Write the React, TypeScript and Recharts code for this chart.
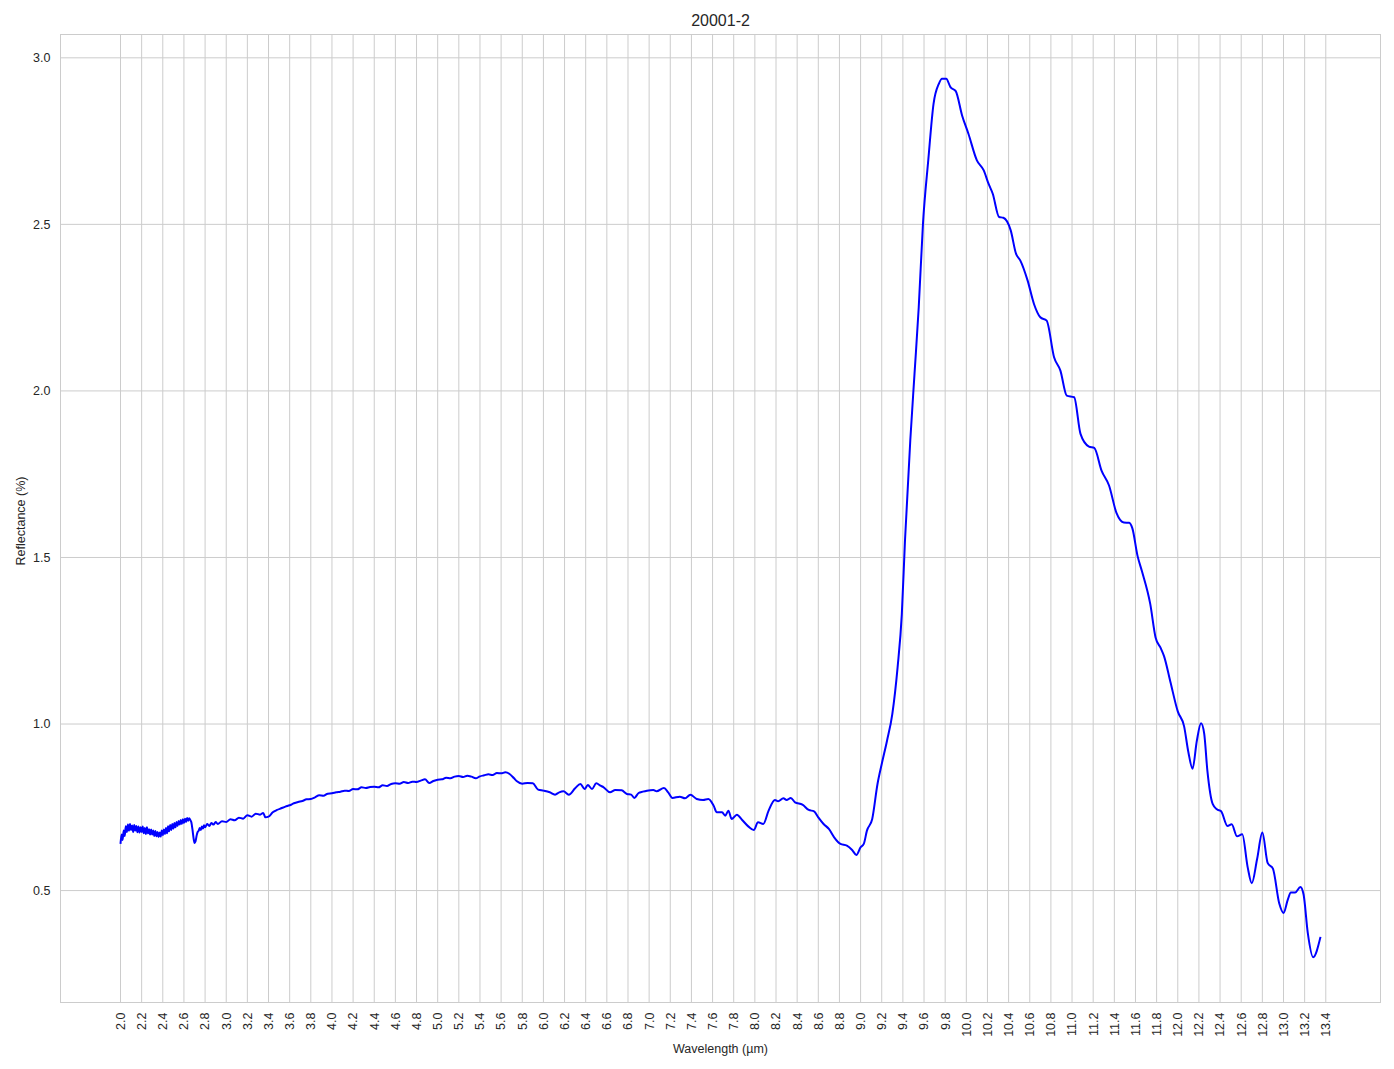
import { LineChart, Line, XAxis, YAxis, CartesianGrid } from 'recharts'

const FONT = "Arial, 'Liberation Sans', sans-serif"
const TEXT = '#262626'
const GRID = '#cccccc'

// wavelength (µm)
const wavelengths = [
  2.00, 2.01, 2.02, 2.03, 2.04, 2.05, 2.06, 2.07, 2.08, 2.09, 2.10, 2.11, 2.12, 2.13, 2.14, 2.15, 2.16, 2.17, 2.18, 2.19,
  2.20, 2.21, 2.22, 2.23, 2.24, 2.25, 2.26, 2.27, 2.28, 2.29, 2.30, 2.31, 2.32, 2.33, 2.34, 2.35, 2.36, 2.37, 2.38, 2.39,
  2.40, 2.41, 2.42, 2.43, 2.44, 2.45, 2.46, 2.47, 2.48, 2.49, 2.50, 2.51, 2.52, 2.53, 2.54, 2.55, 2.56, 2.57, 2.58, 2.59,
  2.60, 2.61, 2.62, 2.63, 2.64, 2.65, 2.66, 2.67, 2.68, 2.69, 2.70, 2.71, 2.72, 2.73, 2.74, 2.75, 2.76, 2.77, 2.78, 2.79,
  2.80, 2.82, 2.84, 2.86, 2.88, 2.90,
  2.92, 2.96, 3.00, 3.04, 3.08, 3.12, 3.16, 3.20, 3.24, 3.28, 3.32, 3.35, 3.37, 3.40, 3.44, 3.48, 3.52, 3.56, 3.60, 3.64,
  3.68, 3.72, 3.76, 3.80, 3.84, 3.88, 3.92, 3.96, 4.00, 4.04, 4.08, 4.12, 4.16, 4.20, 4.24, 4.28, 4.32, 4.36, 4.40, 4.44,
  4.48, 4.52, 4.56, 4.60, 4.64, 4.68, 4.72, 4.76, 4.80, 4.84, 4.88, 4.92, 4.96, 5.00, 5.04, 5.08, 5.12, 5.16, 5.20, 5.24,
  5.28, 5.32, 5.36, 5.40, 5.44, 5.48, 5.52, 5.56, 5.60, 5.64, 5.68, 5.72, 5.75, 5.80,
  5.85, 5.90, 5.95, 6.00, 6.06, 6.11, 6.15, 6.19, 6.24, 6.30, 6.35, 6.39, 6.42, 6.46, 6.50, 6.54, 6.57, 6.63, 6.68, 6.74,
  6.79, 6.83, 6.86, 6.90, 6.94, 6.98, 7.04, 7.07, 7.14, 7.18, 7.22, 7.29, 7.34, 7.39, 7.45, 7.51, 7.56, 7.61, 7.64, 7.69,
  7.72, 7.75, 7.78, 7.83, 7.88, 7.94, 7.99, 8.03, 8.08, 8.13, 8.19, 8.22, 8.27, 8.30, 8.34, 8.38, 8.45, 8.51, 8.56, 8.60,
  8.65, 8.70, 8.75, 8.81, 8.87, 8.92, 8.96, 9.00, 9.03, 9.06, 9.11, 9.16, 9.20, 9.25, 9.30, 9.35, 9.39, 9.42, 9.47, 9.51,
  9.55, 9.59, 9.64, 9.69, 9.74, 9.77, 9.81, 9.85, 9.90, 9.96, 10.02, 10.10, 10.165, 10.21, 10.25, 10.31, 10.35, 10.42, 10.47, 10.51,
  10.58, 10.64, 10.70, 10.76, 10.83, 10.89, 10.95, 11.02, 11.08, 11.16, 11.21, 11.28, 11.35, 11.42, 11.49, 11.54, 11.57, 11.62, 11.66, 11.74,
  11.79, 11.84, 11.87, 11.93, 12.00, 12.06, 12.10, 12.14, 12.18, 12.22, 12.25, 12.28, 12.33, 12.37, 12.41, 12.47, 12.51, 12.56, 12.61, 12.66,
  12.70, 12.75, 12.80, 12.85, 12.90, 12.96, 13.00, 13.04, 13.07, 13.11, 13.16, 13.19, 13.23, 13.28, 13.35,
]

// reflectance (%)
const reflectance = [
  0.640, 0.668, 0.652, 0.680, 0.664, 0.693, 0.676, 0.698, 0.680, 0.700, 0.682, 0.695, 0.676, 0.697, 0.680, 0.694, 0.675, 0.692, 0.674, 0.690,
  0.676, 0.692, 0.672, 0.688, 0.670, 0.690, 0.672, 0.684, 0.668, 0.683, 0.668, 0.680, 0.664, 0.679, 0.663, 0.676, 0.661, 0.674, 0.662, 0.680,
  0.666, 0.683, 0.670, 0.688, 0.672, 0.693, 0.678, 0.697, 0.682, 0.700, 0.686, 0.703, 0.690, 0.706, 0.694, 0.709, 0.698, 0.712, 0.700, 0.714,
  0.703, 0.716, 0.706, 0.718, 0.710, 0.717, 0.712, 0.705, 0.685, 0.660, 0.643, 0.648, 0.665, 0.676, 0.680, 0.688, 0.682, 0.692, 0.686, 0.696,
  0.690, 0.700, 0.694, 0.703, 0.698, 0.706,
  0.700, 0.708, 0.706, 0.714, 0.711, 0.719, 0.716, 0.726, 0.722, 0.731, 0.728, 0.733, 0.720, 0.722, 0.735, 0.742, 0.747, 0.752, 0.756, 0.762,
  0.766, 0.769, 0.774, 0.775, 0.780, 0.786, 0.785, 0.791, 0.792, 0.795, 0.797, 0.800, 0.799, 0.805, 0.804, 0.810, 0.808, 0.811, 0.812, 0.810,
  0.816, 0.814, 0.820, 0.822, 0.821, 0.826, 0.823, 0.827, 0.826, 0.830, 0.834, 0.823, 0.829, 0.833, 0.834, 0.839, 0.837, 0.842, 0.844, 0.841,
  0.845, 0.842, 0.837, 0.843, 0.846, 0.849, 0.847, 0.853, 0.852, 0.855, 0.850, 0.838, 0.828, 0.821,
  0.823, 0.822, 0.803, 0.800, 0.795, 0.788, 0.795, 0.798, 0.788, 0.807, 0.820, 0.805, 0.817, 0.805, 0.822, 0.815, 0.810, 0.795, 0.802, 0.801,
  0.790, 0.788, 0.778, 0.793, 0.797, 0.800, 0.802, 0.798, 0.808, 0.795, 0.778, 0.782, 0.777, 0.788, 0.775, 0.772, 0.775, 0.755, 0.735, 0.735,
  0.725, 0.740, 0.715, 0.728, 0.712, 0.692, 0.682, 0.705, 0.700, 0.740, 0.772, 0.768, 0.777, 0.772, 0.778, 0.765, 0.758, 0.742, 0.738, 0.720,
  0.700, 0.685, 0.660, 0.640, 0.635, 0.622, 0.607, 0.630, 0.640, 0.680, 0.715, 0.820, 0.880, 0.950, 1.030, 1.170, 1.330, 1.551, 1.851, 2.051,
  2.251, 2.502, 2.692, 2.862, 2.922, 2.937, 2.937, 2.912, 2.900, 2.827, 2.772, 2.692, 2.662, 2.622, 2.592, 2.522, 2.520, 2.482, 2.412, 2.392,
  2.331, 2.261, 2.221, 2.211, 2.101, 2.061, 1.986, 1.981, 1.871, 1.833, 1.829, 1.760, 1.716, 1.634, 1.605, 1.604, 1.588, 1.504, 1.460, 1.360,
  1.260, 1.227, 1.204, 1.127, 1.038, 0.993, 0.916, 0.866, 0.949, 1.002, 0.971, 0.860, 0.760, 0.744, 0.738, 0.694, 0.699, 0.663, 0.669, 0.572,
  0.522, 0.594, 0.674, 0.583, 0.566, 0.461, 0.433, 0.472, 0.494, 0.494, 0.511, 0.488, 0.372, 0.300, 0.361,
]

const xTicks = [
  2.0, 2.2, 2.4, 2.6, 2.8, 3.0, 3.2, 3.4, 3.6, 3.8, 4.0, 4.2, 4.4, 4.6, 4.8, 5.0, 5.2, 5.4, 5.6, 5.8,
  6.0, 6.2, 6.4, 6.6, 6.8, 7.0, 7.2, 7.4, 7.6, 7.8, 8.0, 8.2, 8.4, 8.6, 8.8, 9.0, 9.2, 9.4, 9.6, 9.8,
  10.0, 10.2, 10.4, 10.6, 10.8, 11.0, 11.2, 11.4, 11.6, 11.8, 12.0, 12.2, 12.4, 12.6, 12.8, 13.0, 13.2, 13.4,
]
const yTicks = [0.5, 1.0, 1.5, 2.0, 2.5, 3.0]

const data = wavelengths.map((w, i) => ({ w, r: reflectance[i] }))

const XTick = (props: any) => {
  const { x, y, payload } = props
  return (
    <text
      x={x}
      y={y}
      dy="0.35em"
      transform={`rotate(-90 ${x} ${y})`}
      textAnchor="end"
      fontSize={12.5}
      fontFamily={FONT}
      fill={TEXT}
    >
      {Number(payload.value).toFixed(1)}
    </text>
  )
}

const YTick = (props: any) => {
  const { x, y, payload } = props
  return (
    <text x={x} y={y} dy="0.35em" textAnchor="end" fontSize={12.5} fontFamily={FONT} fill={TEXT}>
      {Number(payload.value).toFixed(1)}
    </text>
  )
}

const App = () => {
  return (
    <div style={{ position: 'absolute', left: 0, top: 0, width: 1394, height: 1069, background: '#fff' }}>
      <LineChart
        width={1394}
        height={1069}
        data={data}
        margin={{ top: 34.5, right: 13.5, left: 0, bottom: 0 }}
      >
        <CartesianGrid stroke={GRID} strokeWidth={1} />
        <XAxis
          dataKey="w"
          type="number"
          domain={[1.4325, 13.9175]}
          ticks={xTicks}
          interval={0}
          allowDataOverflow
          height={66.5}
          axisLine={false}
          tickLine={false}
          tickSize={0}
          tickMargin={10}
          tick={<XTick />}
        />
        <YAxis
          type="number"
          domain={[0.164, 3.07]}
          ticks={yTicks}
          allowDataOverflow
          width={60.5}
          axisLine={false}
          tickLine={false}
          tickSize={0}
          tickMargin={10}
          tick={<YTick />}
        />
        <Line
          dataKey="r"
          type="monotone"
          stroke="#0000ff"
          strokeWidth={2}
          dot={false}
          activeDot={false}
          isAnimationActive={false}
        />
      </LineChart>
      <div
        style={{
          position: 'absolute',
          left: 60,
          top: 34,
          width: 1321,
          height: 969,
          border: `1px solid ${GRID}`,
          boxSizing: 'border-box',
          pointerEvents: 'none',
        }}
      />
      <svg
        width={1394}
        height={1069}
        style={{ position: 'absolute', left: 0, top: 0, pointerEvents: 'none' }}
      >
        <text x={720.5} y={25.7} textAnchor="middle" fontSize={16} fontFamily={FONT} fill={TEXT}>
          20001-2
        </text>
        <text x={720.5} y={1052.5} textAnchor="middle" fontSize={12.5} fontFamily={FONT} fill={TEXT}>
          Wavelength (µm)
        </text>
        <text
          x={24.5}
          y={521}
          textAnchor="middle"
          transform="rotate(-90 24.5 521)"
          fontSize={12.5}
          fontFamily={FONT}
          fill={TEXT}
        >
          Reflectance (%)
        </text>
      </svg>
    </div>
  )
}

export default App
